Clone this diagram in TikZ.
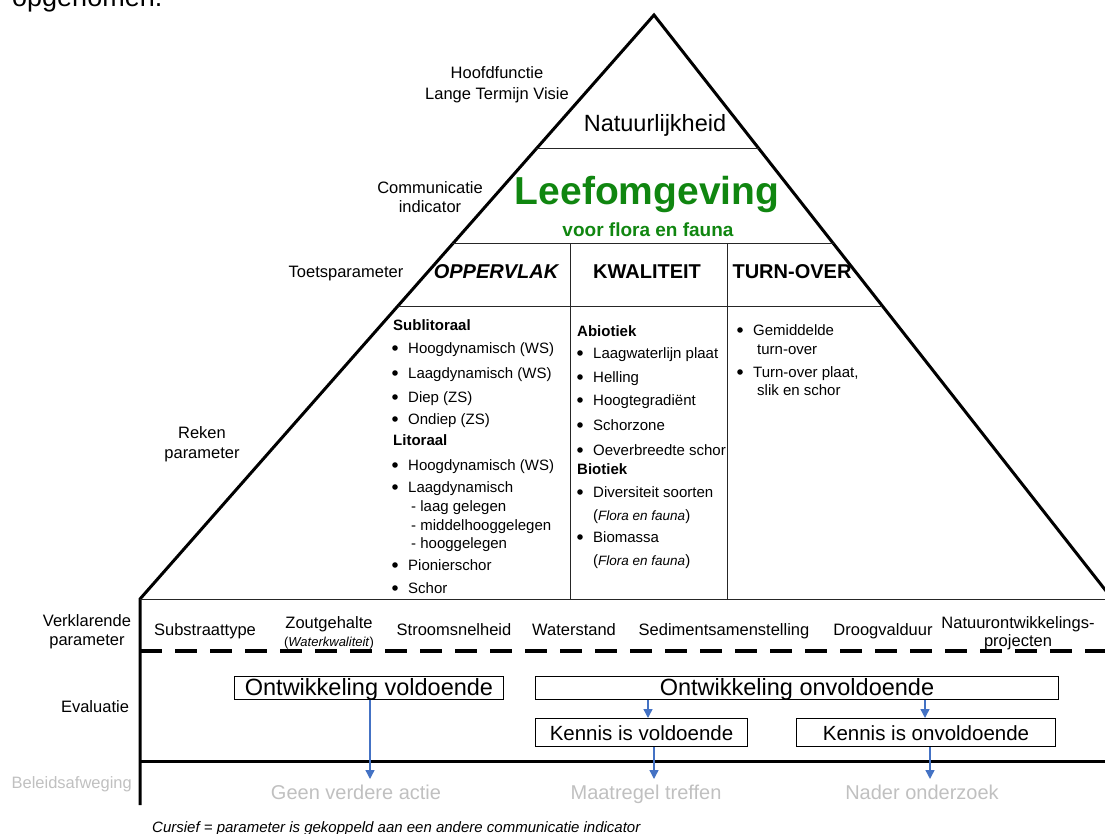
\documentclass[tikz,border=0pt]{standalone}
\usepackage{fontspec}
\setmainfont{Liberation Sans}
\usetikzlibrary{arrows.meta}
\definecolor{leafgreen}{RGB}{16,134,16}
\definecolor{arrowblue}{RGB}{68,114,196}
\definecolor{paleg}{RGB}{192,192,192}
\newcommand\fs[2]{\fontsize{#1}{#2}\selectfont}
\begin{document}
\begin{tikzpicture}[x=1pt,y=-1pt,
  edge/.style={line width=3pt, line join=miter},
  rule/.style={line width=1pt, draw=black!85},
  dashline/.style={line width=3.5pt, dash pattern=on 22pt off 13pt},
  lab/.style={inner sep=0pt, font=\fs{16.5}{20}, align=center, anchor=base},
  item/.style={anchor=base west, inner sep=0pt, font=\fs{15}{18}},
  head/.style={anchor=base west, inner sep=0pt, font=\fs{15}{18}\bfseries},
  colhead/.style={inner sep=0pt, font=\fs{20}{24}\bfseries, anchor=base},
  expl/.style={inner sep=0pt, font=\fs{16.5}{20}, anchor=base, align=center},
  evalbox/.style={draw, line width=1pt, inner sep=0pt, anchor=north west, text height=17pt, text depth=2pt},
  grey/.style={inner sep=0pt, font=\fs{20}{24}, text=paleg, anchor=base},
  arr/.style={draw=arrowblue, fill=arrowblue, line width=1.4pt, -{Triangle[width=9pt,length=9pt]}},
  dot/.style={fill=black}
]
\useasboundingbox (0,0) rectangle (1105,834);
\clip (0,0) rectangle (1105,834);

% cut-off text at the top
\node[anchor=base west, inner sep=0pt, font=\fs{27}{30}] (opg) at (12,7) {opgenomen.};

% pyramid
\coordinate (apex) at (654,15);
\coordinate (bl) at (140,599);
\coordinate (br) at (1121,610);
\coordinate (lb) at (140,805);
\draw[edge] (br) -- (apex) -- (bl) -- (lb);

\draw[rule] (536,149) -- (759,149);
\draw[rule] (452,244) -- (834,244);
\draw[rule] (397.5,306) -- (882,306);
\draw[rule] (140,599) -- (1110,599);
\draw[rule] (570,244) -- (570,599);
\draw[rule] (727,244) -- (727,599);

\draw[dashline] (140,651) -- (1110,651);
\draw[edge] (140,761) -- (1110,761);

% level labels (base = baseline of the last line)
\node[lab] (hoofd) at (497,100) {Hoofdfunctie\\[1pt]Lange Termijn Visie};
\node[lab] (comm) at (430,213) {Communicatie\\[-1pt]indicator};
\node[lab] (toets) at (346,277) {Toetsparameter};
\node[lab] (reken) at (202,458) {Reken\\parameter};
\node[lab] (verkl) at (87,645) {Verklarende\\[-1pt]parameter};
\node[lab] (evalu) at (95,712) {Evaluatie};
\node[lab, anchor=base east, text=paleg] (beleid) at (132,788) {Beleidsafweging};

% top levels
\node[inner sep=0pt, font=\fs{23.5}{28}, anchor=base] (natuur) at (655,132) {Natuurlijkheid};
\node[inner sep=0pt, font=\fs{39}{44}\bfseries, text=leafgreen, anchor=base] (leef) at (647,205) {Leefomgeving};
\node[inner sep=0pt, font=\fs{19}{22}\bfseries, text=leafgreen, anchor=base] (voor) at (648,237) {voor flora en fauna};

% column heads
\node[colhead, font=\fs{20}{24}\bfseries\itshape] (opp) at (496,279) {OPPERVLAK};
\node[colhead] (kwal) at (647,279) {KWALITEIT};
\node[colhead] (turn) at (792,279) {TURN-OVER};

% left column
\node[head] (subl) at (393,330) {Sublitoraal};
\node[head] (lito) at (393,445) {Litoraal};
\foreach \y/\t in {353/Hoogdynamisch (WS), 378/Laagdynamisch (WS), 402/Diep (ZS), 424/Ondiep (ZS), 470/Hoogdynamisch (WS), 492/Laagdynamisch, 570/Pionierschor, 593/Schor}{
  \fill[dot] (395,\y-5) circle (2.8);
  \node[item] at (408,\y) {\t};
}
\foreach \y/\t in {511/- laag gelegen, 530/- middelhooggelegen, 548/- hooggelegen}{
  \node[item] at (411,\y) {\t};
}

% middle column
\node[head] (abio) at (577,336) {Abiotiek};
\node[head] (bio) at (577,474) {Biotiek};
\foreach \y/\t in {358/Laagwaterlijn plaat, 382/Helling, 405/Hoogtegradiënt, 430/Schorzone, 455/Oeverbreedte schor, 497/Diversiteit soorten, 542/Biomassa}{
  \fill[dot] (580,\y-5) circle (2.8);
  \node[item] at (593,\y) {\t};
}
\foreach \y in {520,565}{
  \node[item] at (593,\y) {(\textit{\fs{13.5}{16}Flora en fauna})};
}

% right column
\fill[dot] (740,330) circle (2.8);
\node[item] (gem) at (753,335) {Gemiddelde};
\node[item] (gem2) at (757,354) {turn-over};
\fill[dot] (740,372) circle (2.8);
\node[item] (tov) at (753,377) {Turn-over plaat,};
\node[item] (tov2) at (757,395) {slik en schor};

% explanatory parameters
\node[expl] (subs) at (205,635) {Substraattype};
\node[expl] (zout) at (329,646) {Zoutgehalte\\[-2pt]{\fs{13}{15}(\textit{Waterkwaliteit})}};
\node[expl] (stroom) at (454,635) {Stroomsnelheid};
\node[expl] (water) at (574,635) {Waterstand};
\node[expl] (sedi) at (724,635) {Sedimentsamenstelling};
\node[expl] (droog) at (883,635) {Droogvalduur};
\node[expl] (natont) at (1018,646) {Natuurontwikkelings-\\[-2pt]projecten};

% evaluation boxes
\node[evalbox, minimum width=269pt, minimum height=23pt, font=\fs{23.5}{28}] (ovold) at (234,676) {Ontwikkeling voldoende};
\node[evalbox, minimum width=523pt, minimum height=23pt, font=\fs{23.5}{28}] (onvold) at (535,676) {Ontwikkeling onvoldoende};
\node[evalbox, minimum width=212pt, minimum height=28pt, font=\fs{20.5}{24}] (kvold) at (535,718) {Kennis is voldoende};
\node[evalbox, minimum width=259pt, minimum height=28pt, font=\fs{20.5}{24}] (konvold) at (796,718) {Kennis is onvoldoende};

% policy outcomes
\node[grey] (geen) at (356,799) {Geen verdere actie};
\node[grey] (maat) at (646,799) {Maatregel treffen};
\node[grey] (nader) at (922,799) {Nader onderzoek};

% arrows
\coordinate (t1) at (370,779);
\coordinate (x2) at (648,0);
\coordinate (x3) at (925,0);
\coordinate (t4) at (654,779);
\coordinate (t5) at (930,779);
\draw[arr] (ovold.south -| t1) -- (t1);
\draw[arr] (onvold.south -| x2) -- (kvold.north -| x2);
\draw[arr] (onvold.south -| x3) -- (konvold.north -| x3);
\draw[arr] (kvold.south -| t4) -- (t4);
\draw[arr] (konvold.south -| t5) -- (t5);

% footnote
\node[anchor=base west, inner sep=0pt, font=\fs{15}{18}\itshape] (foot) at (152,832) {Cursief = parameter is gekoppeld aan een andere communicatie indicator};
\end{tikzpicture}
\end{document}
